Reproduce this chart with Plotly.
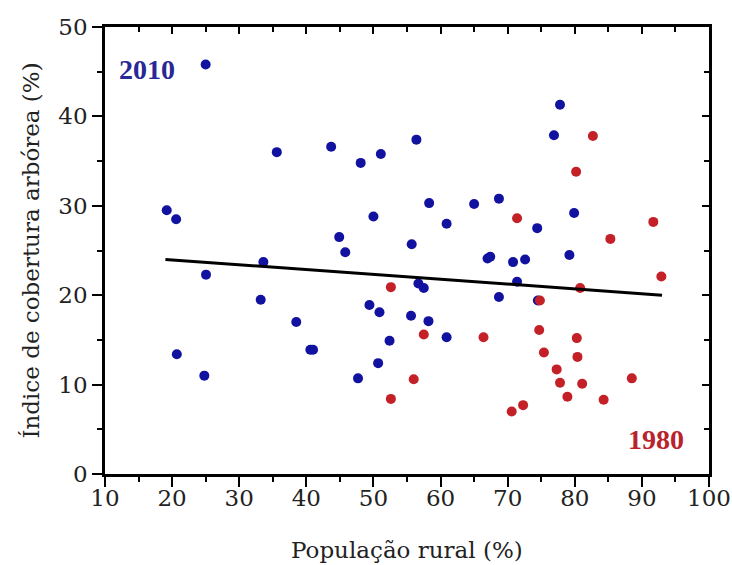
import plotly.graph_objects as go

# 2010 series (blue)
x_2010 = [25.0, 19.2, 20.6, 25.05, 20.7, 24.8, 33.6, 33.2, 35.6, 38.5, 40.6, 41.0,
          43.7, 44.9, 45.8, 48.1, 47.7, 49.4, 50.0, 51.1, 50.9, 50.7, 52.4, 55.7,
          55.6, 56.4, 56.7, 57.5, 58.2, 58.3, 60.9, 60.9, 65.0, 67.0, 67.4, 68.7,
          68.7, 70.8, 71.4, 72.6, 74.4, 74.5, 76.9, 77.8, 79.2, 79.9]
y_2010 = [45.8, 29.5, 28.5, 22.3, 13.4, 11.0, 23.7, 19.5, 36.0, 17.0, 13.9, 13.9,
          36.6, 26.5, 24.8, 34.8, 10.7, 18.9, 28.8, 35.8, 18.1, 12.4, 14.9, 25.7,
          17.7, 37.4, 21.3, 20.8, 17.1, 30.3, 28.0, 15.3, 30.2, 24.1, 24.3, 30.8,
          19.8, 23.7, 21.5, 24.0, 27.5, 19.4, 37.9, 41.3, 24.5, 29.2]

# 1980 series (red)
x_1980 = [52.6, 52.6, 56.0, 57.5, 66.4, 70.6, 71.4, 72.3, 74.7, 74.8, 75.4, 77.3,
          77.8, 78.9, 80.2, 80.3, 80.4, 80.8, 81.1, 82.7, 84.3, 85.3, 88.5, 91.7, 92.9]
y_1980 = [20.9, 8.4, 10.6, 15.6, 15.3, 7.0, 28.6, 7.7, 16.1, 19.4, 13.6, 11.7,
          10.2, 8.65, 33.8, 15.2, 13.1, 20.8, 10.1, 37.8, 8.3, 26.3, 10.7, 28.2, 22.1]

# Regression line endpoints
line_x = [19.0, 93.0]
line_y = [24.0, 20.0]

x_ticks = [10, 20, 30, 40, 50, 60, 70, 80, 90, 100]
y_ticks = [0, 10, 20, 30, 40, 50]

x_title = "População rural (%)"
y_title = "Índice de cobertura arbórea (%)"

BLUE = "rgb(18,18,160)"
RED = "rgb(196,32,40)"
FONT = "DejaVu Serif, Liberation Serif, serif"
BFONT = "Liberation Serif, Times New Roman, Times, serif"
TXT = "#222"

fig = go.Figure()
fig.add_trace(go.Scatter(x=x_2010, y=y_2010, mode="markers",
                         marker=dict(size=10, color=BLUE), showlegend=False, hoverinfo="skip"))
fig.add_trace(go.Scatter(x=x_1980, y=y_1980, mode="markers",
                         marker=dict(size=10, color=RED), showlegend=False, hoverinfo="skip"))
fig.add_trace(go.Scatter(x=line_x, y=line_y, mode="lines",
                         line=dict(color="black", width=3), showlegend=False, hoverinfo="skip"))
# invisible trace to activate mirrored axes
fig.add_trace(go.Scatter(x=[50], y=[25], xaxis="x2", yaxis="y2", mode="markers",
                         marker=dict(size=1, opacity=0), showlegend=False, hoverinfo="skip"))

axis_common = dict(showgrid=False, zeroline=False, showline=True, linecolor="black",
                   linewidth=2.5, tickcolor="black", tickwidth=2, automargin=False)
tfont = dict(family=FONT, size=23, color=TXT)

fig.update_layout(
    width=732, height=565,
    margin=dict(l=105, r=23, t=27, b=91),
    paper_bgcolor="white", plot_bgcolor="white",
    font=dict(family=FONT, size=23, color=TXT),
    xaxis=dict(range=[10, 100], tickvals=x_ticks, ticktext=[str(v) for v in x_ticks],
               ticks="outside", ticklen=10, ticklabelstandoff=-8,
               minor=dict(dtick=5, tick0=10, ticks="outside", ticklen=5, tickwidth=2, tickcolor="black"),
               tickfont=tfont, **axis_common),
    yaxis=dict(range=[0, 50], tickvals=y_ticks, ticktext=[str(v) for v in y_ticks],
               ticks="outside", ticklen=10,
               minor=dict(dtick=5, tick0=0, ticks="outside", ticklen=5, tickwidth=2, tickcolor="black"),
               tickfont=tfont, **axis_common),
    xaxis2=dict(range=[10, 100], overlaying="x", side="top", anchor="y",
                tickvals=x_ticks, ticks="inside", ticklen=7, showticklabels=False,
                minor=dict(dtick=5, tick0=10, ticks="inside", ticklen=5, tickwidth=2, tickcolor="black"),
                **axis_common),
    yaxis2=dict(range=[0, 50], overlaying="y", side="right", anchor="x",
                tickvals=y_ticks, ticks="inside", ticklen=7, showticklabels=False,
                minor=dict(dtick=5, tick0=0, ticks="inside", ticklen=5, tickwidth=2, tickcolor="black"),
                **axis_common),
    annotations=[
        dict(x=16.2, y=45.3, xref="x", yref="y", text="<b>2010</b>", showarrow=False,
             font=dict(family=BFONT, size=28, color="rgb(40,40,150)")),
        dict(x=92.1, y=3.9, xref="x", yref="y", text="<b>1980</b>", showarrow=False,
             font=dict(family=BFONT, size=28, color="rgb(185,35,45)")),
        dict(x=0.5, y=-0.170, xref="paper", yref="paper", text=x_title, showarrow=False,
             xanchor="center", yanchor="middle", font=tfont),
        dict(x=-0.124, y=0.5, xref="paper", yref="paper", text=y_title, showarrow=False,
             textangle=-90, xanchor="center", yanchor="middle", font=tfont),
    ],
)

fig.write_html("out.html", config={"displayModeBar": False})

# remove default page margin so the figure sits at the window's top-left corner
with open("out.html", encoding="utf-8") as f:
    html = f.read()
html = html.replace("<head>", "<head><style>html,body{margin:0;padding:0;}</style>", 1)
with open("out.html", "w", encoding="utf-8") as f:
    f.write(html)
